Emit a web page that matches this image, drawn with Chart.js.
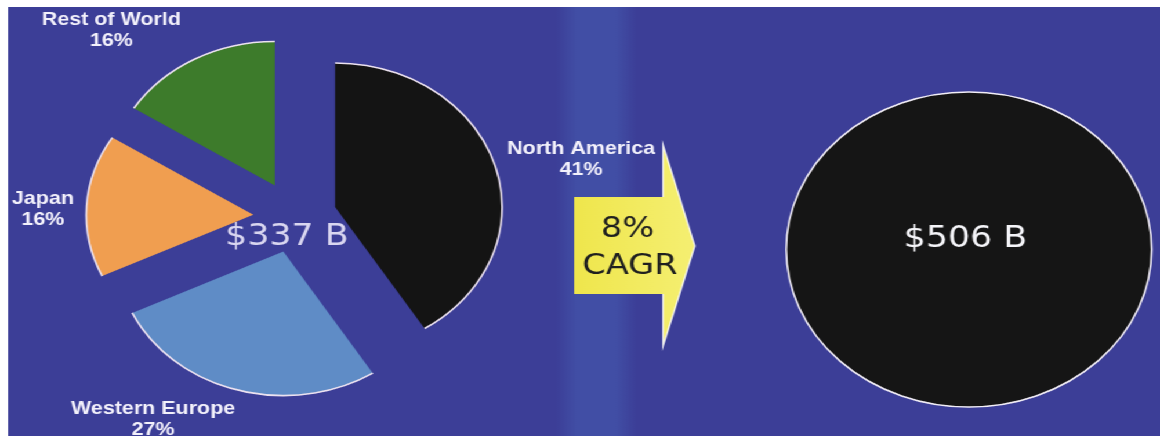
<!DOCTYPE html>
<html>
<head>
<meta charset="utf-8">
<title>Market size by region</title>
<script src="https://cdn.jsdelivr.net/npm/chart.js@4/dist/chart.umd.min.js"></script>
<style>
  html, body { margin: 0; padding: 0; background: #ffffff; overflow: hidden; }
  /* the slide is laid out on a 1000px grid and widened to the window */
  #stage {
    position: absolute; left: 0; top: 0;
    width: 1000px; height: 436px;
    transform: scaleX(1.16); transform-origin: 0 0;
  }
  #bg {
    position: absolute; left: 6.9px; top: 7px; right: 0; bottom: 0;
    background: linear-gradient(to right,
      #3c3e97 0px, #3c3e97 472px, #414ea5 490px,
      #414ea5 524px, #3c3e97 542px, #3c3e97 100%);
  }
  canvas { position: absolute; top: 0; }
  #today { left: 0; }
  #future { left: 640px; }
</style>
</head>
<body>
<div id="stage">
  <div id="bg"></div>
  <canvas id="today" width="640" height="436"></canvas>
  <canvas id="future" width="360" height="436"></canvas>
</div>
<script>
// Regional split of today's market (percent of total)
const regions = ['North America', 'Western Europe', 'Japan', 'Rest of World'];
const shares = [41, 27, 16, 16];
const regionColors = ['#141414', '#5f8cc6', '#f09e50', '#3d7b2b'];

// Market totals in $ billions, and the growth rate between them (%)
const marketToday = 337;
const marketFuture = 506;
const cagr = 8;

// Where each region's name / share is written (canvas px)
const labelSpots = [[501, 149], [132, 409], [37, 199], [96, 20]];

const LABEL_FONT = 'bold 18.5px "Liberation Sans", Arial, sans-serif';
const BIG_FONT = '30px "DejaVu Sans", Verdana, sans-serif';

// Pulls every slice out along its bisector and draws a pale rim on the curved edge only
const explode = {
  id: 'explode',
  afterDatasetsUpdate(chart) {
    const cfg = chart.options.plugins.explode;
    chart.getDatasetMeta(0).data.forEach(arc => {
      if (arc.$exploded) return;
      const baseDraw = Chart.ArcElement.prototype.draw;
      arc.draw = function (ctx, area) {
        const mid = (this.startAngle + this.endAngle) / 2;
        const d = cfg.distance || 0;
        ctx.save();
        ctx.translate(Math.cos(mid) * d, Math.sin(mid) * d);
        baseDraw.call(this, ctx, area);
        ctx.beginPath();
        ctx.arc(this.x, this.y, this.outerRadius, this.startAngle, this.endAngle);
        ctx.lineWidth = cfg.rimWidth;
        ctx.strokeStyle = cfg.rimColor;
        ctx.stroke();
        ctx.restore();
      };
      arc.$exploded = true;
    });
  }
};

// Region names, shares, the total, and the growth arrow
const todayDecor = {
  id: 'todayDecor',
  afterDatasetsDraw(chart) {
    const ctx = chart.ctx;
    const values = chart.data.datasets[0].data;
    ctx.save();
    ctx.textAlign = 'center';
    ctx.textBaseline = 'middle';

    ctx.font = LABEL_FONT;
    ctx.fillStyle = '#f3f1fb';
    chart.data.labels.forEach((name, i) => {
      const [x, y] = labelSpots[i];
      ctx.fillText(name, x, y);
      ctx.fillText(values[i] + '%', x, y + 21);
    });

    const arc = chart.getDatasetMeta(0).data[0];
    ctx.font = BIG_FONT;
    ctx.fillStyle = '#d9d6f0';
    ctx.fillText('$' + marketToday + ' B', arc.x - 7, 237);

    // growth arrow
    const g = ctx.createLinearGradient(495, 0, 599, 0);
    g.addColorStop(0, '#efe64c');
    g.addColorStop(1, '#f5ef72');
    ctx.beginPath();
    ctx.moveTo(495, 197);
    ctx.lineTo(571.6, 197);
    ctx.lineTo(571.6, 145);
    ctx.lineTo(599, 246);
    ctx.lineTo(571.6, 346);
    ctx.lineTo(571.6, 294);
    ctx.lineTo(495, 294);
    ctx.closePath();
    ctx.fillStyle = g;
    ctx.fill();

    ctx.beginPath();
    ctx.moveTo(571.6, 197);
    ctx.lineTo(571.6, 145);
    ctx.lineTo(599, 246);
    ctx.lineTo(571.6, 346);
    ctx.lineTo(571.6, 294);
    ctx.lineWidth = 1.4;
    ctx.strokeStyle = 'rgba(255,255,255,0.85)';
    ctx.stroke();

    ctx.fillStyle = '#1f1f1f';
    ctx.font = '29px "DejaVu Sans", Verdana, sans-serif';
    ctx.fillText(cagr + '%', 541, 229);
    ctx.fillText('CAGR', 543, 266);
    ctx.restore();
  }
};

// Total written inside the future market
const futureDecor = {
  id: 'futureDecor',
  afterDatasetsDraw(chart) {
    const ctx = chart.ctx;
    const arc = chart.getDatasetMeta(0).data[0];
    ctx.save();
    ctx.textAlign = 'center';
    ctx.textBaseline = 'middle';
    ctx.font = BIG_FONT;
    ctx.fillStyle = '#f4f4f8';
    ctx.fillText('$' + chart.data.datasets[0].data[0] + ' B', arc.x - 3, 239);
    ctx.restore();
  }
};

const common = {
  responsive: false,
  maintainAspectRatio: false,
  animation: false,
  events: [],
  plugins: { legend: { display: false }, tooltip: { enabled: false } }
};

new Chart(document.getElementById('today'), {
  type: 'pie',
  data: {
    labels: regions,
    datasets: [{
      data: shares,
      backgroundColor: regionColors,
      borderWidth: 0,
      radius: 144
    }]
  },
  options: {
    ...common,
    layout: { padding: { left: 110.3, right: 241.7, top: 73, bottom: 75 } },
    plugins: {
      ...common.plugins,
      explode: { distance: 36, rimWidth: 1.6, rimColor: '#ece2f0' }
    }
  },
  plugins: [explode, todayDecor]
});

new Chart(document.getElementById('future'), {
  type: 'pie',
  data: {
    labels: ['Total'],
    datasets: [{
      data: [marketFuture],
      backgroundColor: ['#151515'],
      borderWidth: 0,
      radius: 157.5
    }]
  },
  options: {
    ...common,
    layout: { padding: { left: 37.8, right: 7.2, top: 92, bottom: 29 } },
    plugins: {
      ...common.plugins,
      explode: { distance: 0, rimWidth: 1.6, rimColor: '#f2eef6' }
    }
  },
  plugins: [explode, futureDecor]
});
</script>
</body>
</html>
